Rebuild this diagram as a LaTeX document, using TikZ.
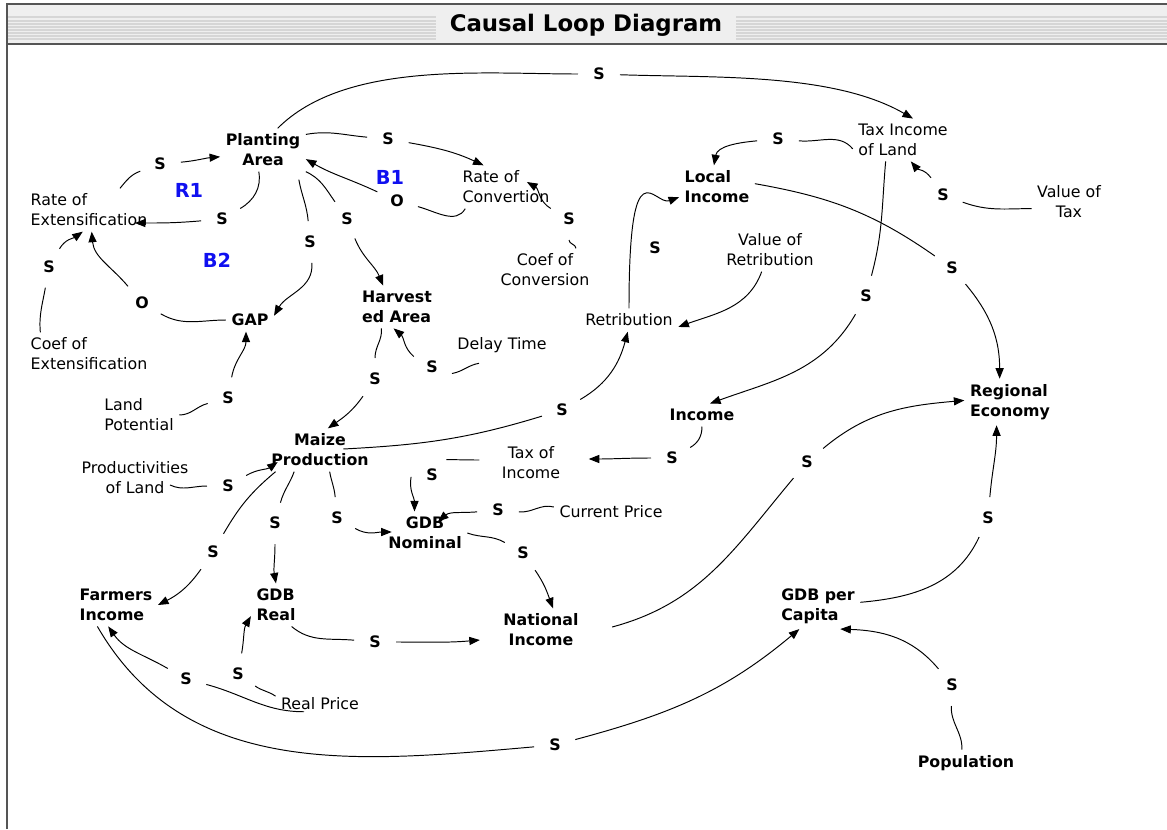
\documentclass[tikz,border=0pt]{standalone}
\usepackage{fontspec}
\setmainfont{DejaVu Sans}
\usetikzlibrary{arrows.meta,calc}
\definecolor{framegray}{HTML}{555555}
\definecolor{barfill}{HTML}{EFEFEF}
\definecolor{barline}{HTML}{D6D6D6}
\definecolor{loopblue}{HTML}{1010F0}

\begin{document}
\begin{tikzpicture}[
  x=0.02cm,y=0.02cm,
  font=\fontsize{9}{11.3}\selectfont,
  >={Triangle[length=6pt,width=4.6pt]},
  var/.style={font=\fontsize{9}{11.3}\selectfont\bfseries,align=center,inner sep=3pt},
  aux/.style={font=\fontsize{9}{11.3}\selectfont,align=center,inner sep=3pt},
  pol/.style={circle,font=\fontsize{9}{11.3}\selectfont\bfseries,inner sep=5pt},
  loopname/.style={font=\fontsize{11}{13}\selectfont\bfseries,text=loopblue},
  link/.style={->,line width=0.55pt},
]
\useasboundingbox (0,0) rectangle (1167,-829);

% ============ frame and title bar ============
\fill[barfill] (7,-4) rectangle (1167,-44);
\foreach \yy in {17,21,24,27,30,33,36,39}
  \draw[barline,line width=0.8pt] (7,-\yy) -- (1167,-\yy);
\node[font=\fontsize{13}{15}\selectfont\bfseries,fill=barfill,inner xsep=8pt,inner ysep=2pt] (title) at (586,-25) {Causal Loop Diagram};
\draw[framegray,line width=1.1pt] (7,-829) -- (7,-4) -- (1167,-4);
\draw[framegray,line width=0.8pt] (7,-44) -- (1167,-44);

% ============ variables ============
\node[var] (pa) at (263,-150) {Planting\\Area};
\node[var] (gap) at (250,-320) {GAP};
\node[var,align=left] (harv) at (397,-307) {Harvest\\ed Area};
\node[var,align=left] (loc) at (717,-187) {Local\\Income};
\node[var] (maize) at (320,-450) {Maize\\Production};
\node[var] (inc) at (702,-415) {Income};
\node[var,align=left] (reg) at (1010,-402) {Regional\\Economy};
\node[var] (gdbn) at (425,-533) {GDB\\Nominal};
\node[var,align=left] (farm) at (116,-605) {Farmers\\Income};
\node[var,align=left] (gdbr) at (276,-605) {GDB\\Real};
\node[var] (nat) at (541,-630) {National\\Income};
\node[var,align=left] (gpc) at (818,-606) {GDB per\\Capita};
\node[var] (pop) at (966,-763) {Population};

\node[aux,align=left] (rext) at (89,-210) {Rate of\\Extensification};
\node[aux,align=left] (cext) at (89,-354) {Coef of\\Extensification};
\node[aux,align=left] (land) at (139,-415) {Land\\Potential};
\node[aux] (prod) at (135,-478) {Productivities\\of Land};
\node[aux,align=left] (rconv) at (506,-187) {Rate of\\Convertion};
\node[aux] (cconv) at (545,-270) {Coef of\\Conversion};
\node[aux] (delay) at (502,-345) {Delay Time};
\node[aux] (retr) at (629,-320) {Retribution};
\node[aux] (vretr) at (770,-250) {Value of\\Retribution};
\node[aux,align=left] (taxland) at (903,-140) {Tax Income\\of Land};
\node[aux] (vtax) at (1069,-202) {Value of\\Tax};
\node[aux] (taxinc) at (531,-463) {Tax of\\Income};
\node[aux] (cprice) at (611,-512) {Current Price};
\node[aux] (rprice) at (320,-704) {Real Price};

% loop names
\node[loopname] (r1) at (189,-190) {R1};
\node[loopname] (b1) at (390,-177) {B1};
\node[loopname] (b2) at (217,-260) {B2};

% ============ links around Planting Area ============
\node[pol] (p1) at (160,-164) {S};
\draw[link] (rext.35) to[out=50,in=200] (p1) to[out=5,in=185] (pa.189);
\node[pol] (p2) at (222,-219) {S};
\draw[link] (pa.259) to[out=-80,in=30] (p2) to[out=185,in=0] ($(rext.east)+(-18,-13)$);
\node[pol] (p3) at (49,-267) {S};
\draw[link] (cext.156) to[out=95,in=260] (p3) to[out=60,in=215] (rext.254);
\node[pol] (p4) at (142,-303) {O};
\draw[link] (gap.west) to[out=180,in=330] (p4) to[out=130,in=275] (rext.277);
\node[pol] (p5) at (310,-242) {S};
\draw[link] ($(pa.south east)+(-7,-8)$) to[out=-80,in=95] (p5) to[out=-85,in=60] (gap.10);
\node[pol] (p6) at (347,-219) {S};
\draw[link] (pa.south east) to[out=-25,in=125] (p6) to[out=-68,in=112] (harv.123);
\node[pol] (p7) at (388,-139) {S};
\draw[link] (pa.20) to[out=10,in=175] (p7) to[out=-10,in=155] (rconv.136);
\node[pol] (p8) at (397,-201) {O};
\draw[link] (rconv.208) to[out=240,in=-15] (p8) to[out=155,in=-30] (pa.348);
\node[pol] (p9) at (569,-219) {S};
\draw[link] (cconv.35) to[out=90,in=-90] (p9) to[out=150,in=-30] ($(rconv.east)+(-28,5)$);
\node[pol] (p10) at (599,-74) {S};
\draw[link] (pa.56) to[out=45,in=180,looseness=0.8] (p10) to[out=-2,in=150,looseness=0.8] (taxland.65);

% ============ land tax and local income ============
\node[pol] (p11) at (778,-139) {S};
\draw[link] (taxland.190) to[out=130,in=-5] (p11) to[out=185,in=80] (loc.98);
\node[pol] (p12) at (943,-195) {S};
\draw[link] (vtax.190) to[out=180,in=-20] (p12) to[out=125,in=-50] (taxland.290);
\node[pol] (p13) at (866,-296) {S};
\draw[link] (taxland.231) to[out=265,in=75] (p13) to[out=240,in=20] (inc.55);
\node[pol] (p14) at (952,-268) {S};
\draw[link] (loc.5) to[out=-10,in=145] (p14) to[out=-50,in=90] (reg.114);
\draw[link] (vretr.249) to[out=250,in=20] (retr.352);
\node[pol] (p16) at (655,-248) {S};
\draw[link] (retr.north) to[out=90,in=200,out distance=95,in distance=15] (loc.195);
\node[pol] (p17) at (562,-410) {S};
\draw[link] ($(maize.east)+(-31,1)$) to[out=3,in=197] (p17) to[out=30,in=255] (retr.264);

% ============ production ============
\node[pol] (p18) at (375,-379) {S};
\draw[link] (harv.234) to[out=-85,in=90] (p18) to[out=235,in=35] (maize.70);
\node[pol] (p19) at (432,-367) {S};
\draw[link] ($(delay.south)+(-23,-5)$) to[out=190,in=10] (p19.-18) (p19.150) to[out=140,in=-40] (harv.261);
\node[pol] (p20) at (228,-398) {S};
\draw[link] (land.east) to[out=0,in=195] (p20) to[out=80,in=270] (gap.251);
\node[pol] (p21) at (228,-486) {S};
\draw[link] ($(prod.east)+(-24,-7)$) to[out=-25,in=180] (p21) to[out=30,in=215] ($(maize.west)+(12,-12)$);
\node[pol] (p22) at (213,-552) {S};
\draw[link] (maize.206) to[out=220,in=60] (p22) to[out=235,in=27] (farm.east);
\node[pol] (p23) at (275,-523) {S};
\draw[link] (maize.220) to[out=250,in=75] (p23) to[out=-90,in=100] (gdbr.north);
\node[pol] (p35) at (337,-518) {S};
\draw[link] (maize.294) to[out=-80,in=95] (p35) to[out=-30,in=180] ($(gdbn.west)+(9,1)$);

% ============ income and economy ============
\node[pol] (p31) at (672,-458) {S};
\draw[link] (inc.south) to[out=-90,in=30] (p31) to[out=180,in=0] ($(taxinc.east)+(23,4)$);
\node[pol] (p32) at (432,-475) {S};
\draw[link] ($(taxinc.west)+(-17,3)$) to[out=180,in=0] (p32.47) (p32.185) to[out=260,in=90] (gdbn.116);
\node[pol] (p33) at (498,-510) {S};
\draw[link] (cprice.175) to[out=165,in=-5] (p33) to[out=185,in=40] ($(gdbn.north)+(13,-10)$);
\node[pol] (p34) at (523,-553) {S};
\draw[link] (gdbn.east) to[out=-20,in=150] (p34) to[out=-55,in=110] (nat.61);
\node[pol] (p24) at (807,-462) {S};
\draw[link] ($(nat.east)+(28,3)$) to[out=15,in=230] (p24) to[out=40,in=185] (reg.178);
\node[pol] (p25) at (988,-518) {S};
\draw[link] (gpc.5) to[out=5,in=245] (p25) to[out=85,in=270] (reg.240);
\node[pol] (p26) at (952,-685) {S};
\draw[link] (pop.107) to[out=88,in=-92] (p26) to[out=130,in=-2] (gpc.314);

% ============ prices and farmers ============
\node[pol] (p27) at (375,-642) {S};
\draw[link] (gdbr.306) to[out=-40,in=175] (p27) to[out=0,in=185] ($(nat.west)+(-18,-10)$);
\node[pol] (p28) at (238,-674) {S};
\draw[link] (rprice.170) to[out=145,in=-35] (p28) to[out=80,in=240] (gdbr.204);
\node[pol] (p29) at (186,-679) {S};
\draw[link] ($(rprice.south)+(-16,4)$) to[out=180,in=-15] (p29) to[out=150,in=305] (farm.250);
\node[pol] (p30) at (555,-745) {S};
\draw[link] (farm.229) to[out=-60,in=185] (p30) to[out=15,in=220] (gpc.231);

\end{tikzpicture}
\end{document}
